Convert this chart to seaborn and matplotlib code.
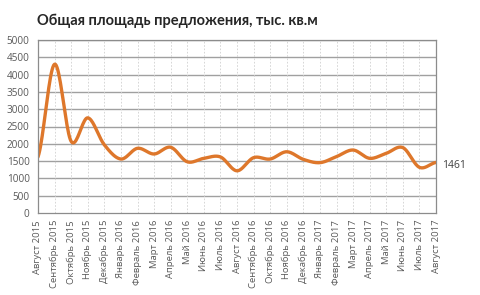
import numpy as np
import pandas as pd
import matplotlib
matplotlib.use("Agg")
import matplotlib.pyplot as plt
import seaborn as sns

months = ["Август 2015", "Сентябрь 2015", "Октябрь 2015", "Ноябрь 2015", "Декабрь 2015",
          "Январь 2016", "Февраль 2016", "Март 2016", "Апрель 2016", "Май 2016",
          "Июнь 2016", "Июль 2016", "Август 2016", "Сентябрь 2016", "Октябрь 2016",
          "Ноябрь 2016", "Декабрь 2016", "Январь 2017", "Февраль 2017", "Март 2017",
          "Апрель 2017", "Май 2017", "Июнь 2017", "Июль 2017", "Август 2017"]
values = [1620, 4300, 2070, 2750, 1970, 1560, 1870, 1705, 1900, 1480,
          1580, 1620, 1220, 1600, 1560, 1770, 1550, 1455, 1630, 1820,
          1580, 1725, 1890, 1320, 1461]
yticks = [0, 500, 1000, 1500, 2000, 2500, 3000, 3500, 4000, 4500, 5000]
title = "Общая площадь предложения, тыс. кв.м"
last_label = "1461"


def smooth(x, y, n=20):
    x = np.asarray(x, float); y = np.asarray(y, float)
    px = np.concatenate([[2 * x[0] - x[1]], x, [2 * x[-1] - x[-2]]])
    py = np.concatenate([[y[0]], y, [y[-1]]])
    xs, ys = [], []
    for i in range(1, len(px) - 2):
        t = np.linspace(0, 1, n, endpoint=False)
        for arr, out in ((px, xs), (py, ys)):
            p0, p1, p2, p3 = arr[i - 1], arr[i], arr[i + 1], arr[i + 2]
            out.extend(0.5 * ((2 * p1) + (-p0 + p2) * t + (2 * p0 - 5 * p1 + 4 * p2 - p3) * t ** 2
                              + (-p0 + 3 * p1 - 3 * p2 + p3) * t ** 3))
    xs.append(x[-1]); ys.append(y[-1])
    return np.array(xs), np.array(ys)


sns.set_style("white")
plt.rcParams['font.family'] = ['Open Sans', 'DejaVu Sans']

fig = plt.figure(figsize=(4.8, 2.95), dpi=100)
ax = fig.add_axes([38 / 480, 1 - 213 / 295, (436 - 38) / 480, (213 - 40) / 295])

xi = np.arange(len(values))
sx, sy = smooth(xi, values)
df = pd.DataFrame({"x": sx, "y": sy})
sns.lineplot(data=df, x="x", y="y", ax=ax, color="#DE772B", lw=2.4, sort=False,
             estimator=None, solid_capstyle="round")

ax.set_xlim(0, len(values) - 1)
ax.set_ylim(0, 5000)
ax.set_yticks(yticks)
ax.set_xticks(xi)
ax.set_xticklabels(months, rotation=90, fontsize=6.8, color="#595959")
ax.tick_params(axis="y", labelsize=7.2, labelcolor="#595959", length=3, color="#8c8c8c",
               width=0.8, pad=3)
ax.tick_params(axis="x", length=3, color="#8c8c8c", width=0.8, pad=2)
ax.set_xlabel("")
ax.set_ylabel("")

for yv in yticks[1:]:
    ax.axhline(yv, color="#a0a0a0", lw=1.0, zorder=0)
for xv in xi[1:-1]:
    ax.axvline(xv, color="#d0d0d0", lw=0.6, ls=(0, (2, 2)), zorder=0)

for s in ax.spines.values():
    s.set_color("#8c8c8c")
    s.set_linewidth(0.9)

ax.annotate(last_label, xy=(xi[-1], values[-1]), xytext=(4.5, -2), textcoords="offset points",
            va="center", ha="left", fontsize=7.5, color="#404040", annotation_clip=False)

fig.text(37 / 480, 1 - 21 / 295, title, fontsize=10.5, fontweight="bold",
         family=["Lato", "DejaVu Sans"], color="#262626", va="center", ha="left")

fig.savefig("out.png", dpi=100)
